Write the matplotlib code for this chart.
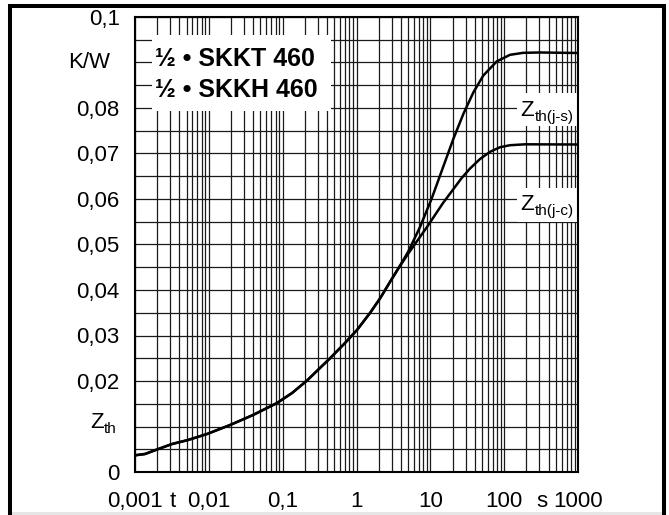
import matplotlib
matplotlib.use('Agg')
import matplotlib.pyplot as plt
from matplotlib.patches import Rectangle
from matplotlib.ticker import LogLocator, MultipleLocator, NullFormatter, FixedLocator

plt.rcParams['font.family'] = ['Liberation Sans', 'DejaVu Sans']

# common part of both curves (t in s, Zth in K/W)
t_common = [0.001, 0.00137, 0.00199, 0.00317, 0.00522, 0.00945, 0.0194, 0.0397,
            0.0838, 0.134, 0.214, 0.320, 0.438, 0.699, 1.016, 1.524, 2.08, 2.84, 3.65]
z_common = [0.00367, 0.00396, 0.00495, 0.00615, 0.00703, 0.00835, 0.01033, 0.01253,
            0.01516, 0.01736, 0.02011, 0.02286, 0.02499, 0.02835, 0.03121, 0.03495,
            0.03813, 0.04176, 0.04462]

# Zth(j-s) branch
t_js = [4.99, 7.25, 10.44, 14.99, 20.48, 27.97, 38.21, 52.2, 79.3, 120, 181.7, 306, 1000]
z_js = [0.04835, 0.05385, 0.06011, 0.06714, 0.07319, 0.07868, 0.08341, 0.08714,
        0.09024, 0.09169, 0.09213, 0.09220, 0.09209]

# Zth(j-c) branch
t_jc = [5.31, 9.02, 14.85, 26.6, 34.5, 47.1, 64.3, 87.9, 120, 191.6, 1000]
z_jc = [0.04857, 0.05385, 0.05912, 0.06462, 0.06670, 0.06879, 0.07037, 0.07138,
        0.07182, 0.07202, 0.07198]

x_ticks = [0.001, 0.01, 0.1, 1, 10, 100, 1000]
x_labels = ['0,001', '0,01', '0,1', '1', '10', '100', '1000']
y_ticks = [0, 0.01, 0.02, 0.03, 0.04, 0.05, 0.06, 0.07, 0.08, 0.09, 0.1]
y_labels = ['0', '', '0,02', '0,03', '0,04', '0,05', '0,06', '0,07', '0,08', '', '0,1']

W, H = 669, 515
fig = plt.figure(figsize=(W / 100, H / 100), dpi=100)
fig.patch.set_facecolor('white')
ax = fig.add_axes([135 / W, 1 - 472 / H, (578 - 135) / W, (472 - 17) / H])

ax.set_xscale('log')
ax.set_xlim(0.001, 1000)
ax.set_ylim(0, 0.1)

ax.xaxis.set_major_locator(FixedLocator(x_ticks))
ax.set_xticklabels(x_labels)
ax.xaxis.set_minor_locator(LogLocator(base=10, subs=range(2, 10), numticks=20))
ax.xaxis.set_minor_formatter(NullFormatter())
ax.set_yticks(y_ticks)
ax.set_yticklabels(y_labels)
ax.yaxis.set_minor_locator(MultipleLocator(0.005))

ax.set_axisbelow(True)
ax.grid(which='both', color='#1a1a1a', lw=0.9)
ax.tick_params(which='both', length=0, labelsize=16, colors='black')
ax.tick_params(axis='x', pad=14)
ax.tick_params(axis='y', pad=11)
for sp in ax.spines.values():
    sp.set_linewidth(1.5)
    sp.set_zorder(5)

# curves
ax.plot(t_common + t_js, z_common + z_js, color='black', lw=1.8, zorder=3,
        solid_joinstyle='round')
ax.plot(t_common + t_jc, z_common + z_jc, color='black', lw=1.8, zorder=3,
        solid_joinstyle='round')

# white label boxes over the grid
ax.add_patch(Rectangle((0.00168, 0.0794), 0.45 - 0.00168, 0.0960 - 0.0794,
                       facecolor='white', edgecolor='none', zorder=2))
ax.add_patch(Rectangle((150, 0.0761), 1000 - 150, 0.0832 - 0.0761,
                       facecolor='white', edgecolor='none', zorder=2))
ax.add_patch(Rectangle((150, 0.0549), 1000 - 150, 0.0624 - 0.0549,
                       facecolor='white', edgecolor='none', zorder=2))

ax.text(0.00185, 0.0908, '½ • SKKT 460', fontsize=18, fontweight='bold',
        va='center', ha='left', zorder=4)
ax.text(0.00185, 0.0840, '½ • SKKH 460', fontsize=18, fontweight='bold',
        va='center', ha='left', zorder=4)


def z_label(x, y, sub, xycoords='data', off=(0, 0)):
    # "Z" with a smaller subscript placed right after it
    z = ax.annotate('Z', xy=(x, y), xycoords=xycoords,
                    xytext=off, textcoords='offset points',
                    fontsize=16, va='center_baseline', ha='left', zorder=4)
    ax.annotate(sub, xy=(1.0, 0.0), xycoords=z, xytext=(0.3, 0),
                textcoords='offset points', fontsize=11, va='baseline',
                ha='left', zorder=4)
    return z


z_label(165, 0.0800, 'th(j-s)')
z_label(165, 0.0594, 'th(j-c)')
z_label(0, 0.0114, 'th', xycoords=('axes fraction', 'data'), off=(-32.5, 0))

# axis unit labels
ax.annotate('K/W', xy=(0, 0.09), xycoords=('axes fraction', 'data'),
            xytext=(-18, 0), textcoords='offset points',
            ha='right', va='center', fontsize=16)
ax.annotate('t', xy=(0.00327, 0), xycoords=('data', 'axes fraction'),
            xytext=(0, -14), textcoords='offset points',
            ha='center', va='top', fontsize=16)
ax.annotate('s', xy=(320, 0), xycoords=('data', 'axes fraction'),
            xytext=(0, -14), textcoords='offset points',
            ha='center', va='top', fontsize=16)

# outer frame and bottom strip
fig.add_artist(Rectangle((12 / W, 0), (664 - 12) / W, 3 / H,
                         transform=fig.transFigure, facecolor='#e6e6e6',
                         edgecolor='none'))
fig.add_artist(Rectangle((10 / W, -0.05), (664 - 10) / W, 1.05 - 5.5 / H,
                         transform=fig.transFigure, fill=False,
                         edgecolor='black', lw=2.9))

fig.savefig('out.png', dpi=100)
